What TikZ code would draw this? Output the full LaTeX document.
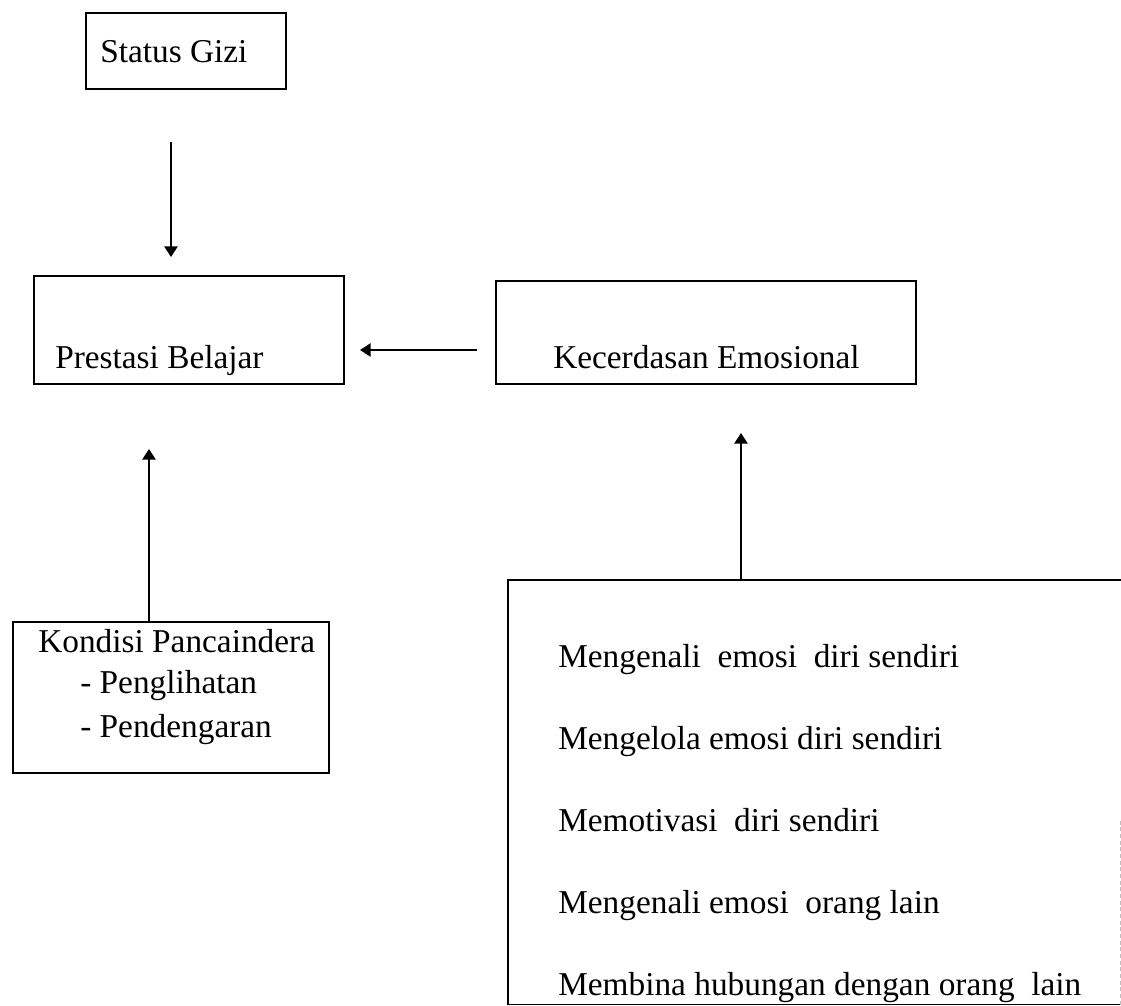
\documentclass[tikz,border=0pt]{standalone}
\usepackage{fontspec}
\setmainfont{Liberation Serif}
\usetikzlibrary{arrows.meta}

\begin{document}
\begin{tikzpicture}[x=0.75pt,y=-0.75pt,
  box/.style={draw=black,line width=1.2pt,rectangle,anchor=north west,inner sep=0pt},
  txt/.style={anchor=base west,inner sep=0pt,font=\fontsize{25}{30}\selectfont},
  link/.style={line width=1.3pt,-{Triangle[length=8pt,width=10pt]}}]
\useasboundingbox (0,0) rectangle (1121,1006);
% boxes
\node[box,minimum width=150pt,minimum height=57pt] (gizi) at (85,12) {};
\node[box,minimum width=232.5pt,minimum height=81pt] (prestasi) at (33,275) {};
\node[box,minimum width=315pt,minimum height=77.25pt] (emosi) at (495,280) {};
\node[box,minimum width=237pt,minimum height=113.25pt] (kondisi) at (12,621) {};
\node[rectangle,anchor=north west,inner sep=0pt,minimum width=459.75pt,minimum height=318pt] (aspek) at (508,580) {};
\draw[line width=1.2pt] (aspek.north east) -- (aspek.north west) -- (aspek.south west) -- (aspek.south east);
\draw[gray!50,densely dashed,line width=0.5pt] (aspek.south east) ++(-1.5,0) -- ++(0,-185);
% texts
\node[txt] (giziT) at (100,63) {Status Gizi};
\node[txt] (prestasiT) at (55,368) {Prestasi Belajar};
\node[txt] (emosiT) at (553,368) {Kecerdasan Emosional};
\node[txt] (kondisiT) at (38,652) {Kondisi Pancaindera};
\node[txt] (lihatT) at (80,693) {- Penglihatan};
\node[txt] (dengarT) at (80,737) {- Pendengaran};
\node[txt] (aspek1) at (558,667) {Mengenali~ emosi~ diri sendiri};
\node[txt] (aspek2) at (558,749) {Mengelola emosi diri sendiri};
\node[txt] (aspek3) at (558,831) {Memotivasi~ diri sendiri};
\node[txt] (aspek4) at (558,913) {Mengenali emosi~ orang lain};
\node[txt] (aspek5) at (558,995) {Membina hubungan dengan orang~ lain};
% arrows
\coordinate (g1) at (171,142);
\coordinate (g2) at (171,257);
\coordinate (e1) at (477,350);
\coordinate (e2) at (360,350);
\coordinate (k1) at (149,449);
\coordinate (a1) at (741,433);
\draw[link] (g1) -- (g2);
\draw[link] (e1) -- (e2);
\draw[link] (kondisi.north -| k1) -- (k1);
\draw[link] (aspek.north -| a1) -- (a1);
\end{tikzpicture}
\end{document}
